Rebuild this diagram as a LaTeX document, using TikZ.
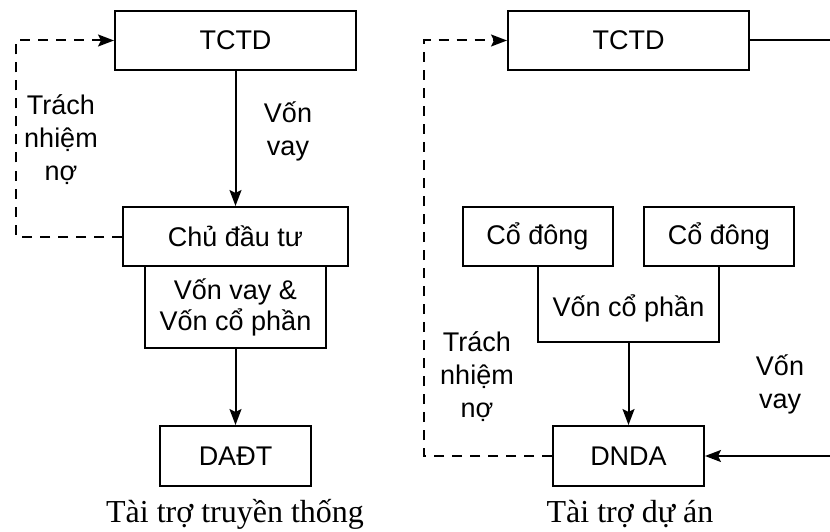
\documentclass[tikz,border=0pt]{standalone}
\usepackage{fontspec}
\setmainfont{Liberation Sans}
\newfontfamily\capfont{Liberation Serif}
\usetikzlibrary{arrows.meta}
\begin{document}
\begin{tikzpicture}[x=1pt,y=-1pt,
  line width=2pt,
  txt/.style={font=\fontsize{27}{33}\selectfont, align=center, inner sep=0pt},
  box/.style={draw, line width=2pt, inner sep=0pt, font=\fontsize{27}{31}\selectfont, align=center},
  captxt/.style={font=\capfont\fontsize{32}{36}\selectfont, inner sep=0pt, anchor=base},
  arr/.style={-{Stealth[length=16pt,width=12pt,inset=3pt]}},
  dsh/.style={dash pattern=on 10pt off 8pt},
]
\useasboundingbox (0,0) rectangle (830,532);
\clip (0,0) rectangle (830,532);
% ---------- left: traditional ----------
\node[box, minimum width=241pt, minimum height=59pt] (tctdL) at (235.5,40.5) {TCTD};
\node[box, minimum width=225pt, minimum height=59pt] (chuL) at (235.5,236.5) {Chủ đầu tư};
\node[box, minimum width=181pt, minimum height=82pt] (vonL) at (235.5,307) {Vốn vay \&\\Vốn cổ phần};
\node[box, minimum width=151pt, minimum height=60pt] (daL) at (235.5,456) {DAĐT};
\node[txt] (vvL) at (288,131) {Vốn\\vay};
\node[txt] (tnL) at (61,140) {Trách\\nhiệm\\nợ};
\node[captxt] (capL) at (235,522) {Tài trợ truyền thống};
\coordinate (dLb) at (16,236.5);
\coordinate (dLt) at (16,40.5);
\draw[arr] (tctdL) -- (chuL);
\draw[arr] (vonL) -- (daL);
\draw[dsh, arr] (chuL.west) -- (dLb) -- (dLt) -- (tctdL.west);
% ---------- right: project finance ----------
\node[box, minimum width=241pt, minimum height=59pt] (tctdR) at (628.5,40.5) {TCTD};
\node[box, minimum width=150pt, minimum height=59pt] (cd1) at (537.5,236.5) {Cổ đông};
\node[box, minimum width=150pt, minimum height=59pt] (cd2) at (719,236.5) {Cổ đông};
\node[txt] (vcp) at (628.5,308) {Vốn cổ phần};
\coordinate (vcpBL) at (537.5,342);
\coordinate (vcpBR) at (719,342);
\coordinate (vcpB) at (628.5,342);
\draw (cd1.south) -- (vcpBL) -- (vcpBR) -- (cd2.south);
\node[box, minimum width=151pt, minimum height=60pt] (dnda) at (628.5,456) {DNDA};
\draw[arr] (vcpB) -- (dnda);
\node[txt] (tnR) at (477,377) {Trách\\nhiệm\\nợ};
\node[txt] (vvR) at (780,384) {Vốn\\vay};
\node[captxt] (capR) at (630,522) {Tài trợ dự án};
\coordinate (dRb) at (424,456);
\coordinate (dRt) at (424,40.5);
\draw[dsh, arr] (dnda.west) -- (dRb) -- (dRt) -- (tctdR.west);
\coordinate (eT) at (840,40.5);
\coordinate (eB) at (840,456);
\draw[arr] (tctdR.east) -- (eT) -- (eB) -- (dnda.east);
\end{tikzpicture}
\end{document}
